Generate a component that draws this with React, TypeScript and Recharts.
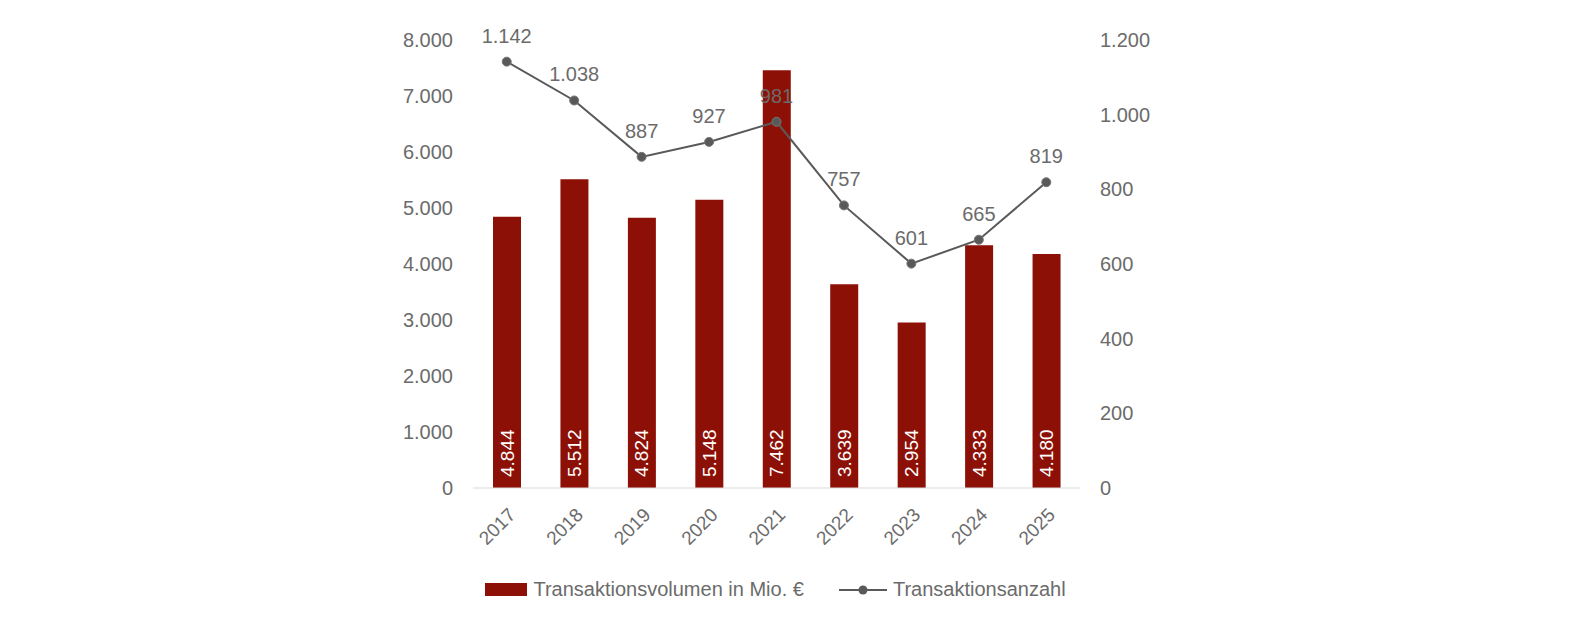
import { ComposedChart, Bar, Line, XAxis, YAxis, Legend, LabelList } from 'recharts';

const years = ['2017', '2018', '2019', '2020', '2021', '2022', '2023', '2024', '2025'];
const volume = [4844, 5512, 4824, 5148, 7462, 3639, 2954, 4333, 4180];
const count = [1142, 1038, 887, 927, 981, 757, 601, 665, 819];
const leftTicks = [0, 1000, 2000, 3000, 4000, 5000, 6000, 7000, 8000];
const rightTicks = [0, 200, 400, 600, 800, 1000, 1200];

const data = years.map((year, i) => ({ year, volume: volume[i], count: count[i] }));

const FONT = '"Liberation Sans", Arial, sans-serif';
const GREY = '#6b6b6b';
const RED = '#8d1006';
const LINE = '#595959';

const fmt = (n: number) => String(n).replace(/\B(?=(\d{3})+(?!\d))/g, '.');

const XTick = ({ x, y, payload }: any) => (
  <g transform={`translate(${x + 10},${y + 20})`}>
    <text x={0} y={0} textAnchor="end" transform="rotate(-45)" fill={GREY} fontSize={19} fontFamily={FONT}>
      {payload.value}
    </text>
  </g>
);

const BarLabel = ({ x, y, width, height, value }: any) => {
  const cx = x + width / 2;
  const by = y + height - 11;
  return (
    <text
      x={cx}
      y={by}
      transform={`rotate(-90, ${cx}, ${by})`}
      textAnchor="start"
      dominantBaseline="central"
      fill="#ffffff"
      fontSize={19}
      fontFamily={FONT}
    >
      {fmt(value)}
    </text>
  );
};

const LegendContent = () => (
  <div style={{ display: 'flex', justifyContent: 'center', alignItems: 'center', fontFamily: FONT, fontSize: 20, color: GREY }}>
    <span style={{ display: 'inline-block', width: 42, height: 13, background: RED, marginRight: 6 }} />
    <span>Transaktionsvolumen in Mio. €</span>
    <svg width={48} height={14} style={{ marginLeft: 35, marginRight: 6 }}>
      <line x1={0} y1={7} x2={48} y2={7} stroke={LINE} strokeWidth={2} />
      <circle cx={24} cy={7} r={4.5} fill={LINE} />
    </svg>
    <span>Transaktionsanzahl</span>
  </div>
);

export default function App() {
  return (
    <div style={{ width: 1566, height: 622 }}>
      <ComposedChart
        width={1566}
        height={622}
        data={data}
        margin={{ top: 32, right: 434, bottom: 64, left: 405 }}
        barSize={28}
      >
        <XAxis
          dataKey="year"
          axisLine={{ stroke: '#d9d9d9' }}
          tickLine={false}
          tick={<XTick />}
          height={78}
          interval={0}
        />
        <YAxis
          yAxisId="left"
          domain={[0, 8000]}
          ticks={leftTicks}
          tickFormatter={fmt}
          axisLine={false}
          tickLine={false}
          tickSize={0}
          tickMargin={20}
          width={60}
          tick={{ fill: GREY, fontSize: 20, fontFamily: FONT }}
        />
        <YAxis
          yAxisId="right"
          orientation="right"
          domain={[0, 1200]}
          ticks={rightTicks}
          tickFormatter={fmt}
          axisLine={false}
          tickLine={false}
          tickSize={0}
          tickMargin={20}
          width={60}
          tick={{ fill: GREY, fontSize: 20, fontFamily: FONT, textAnchor: 'start' }}
        />
        <Bar yAxisId="left" dataKey="volume" fill={RED} isAnimationActive={false}>
          <LabelList dataKey="volume" content={<BarLabel />} />
        </Bar>
        <Line
          yAxisId="right"
          dataKey="count"
          stroke={LINE}
          strokeWidth={2}
          dot={{ r: 4.5, fill: LINE, stroke: '#777', strokeWidth: 1 }}
          activeDot={false}
          isAnimationActive={false}
        >
          <LabelList
            dataKey="count"
            position="top"
            offset={19}
            formatter={(v: any) => fmt(Number(v))}
            fill={GREY}
            fontSize={20}
            fontFamily={FONT}
          />
        </Line>
        <Legend
          verticalAlign="middle"
          align="center"
          layout="horizontal"
          content={<LegendContent />}
          wrapperStyle={{ top: 570, left: 466, width: 603 }}
        />
      </ComposedChart>
    </div>
  );
}
